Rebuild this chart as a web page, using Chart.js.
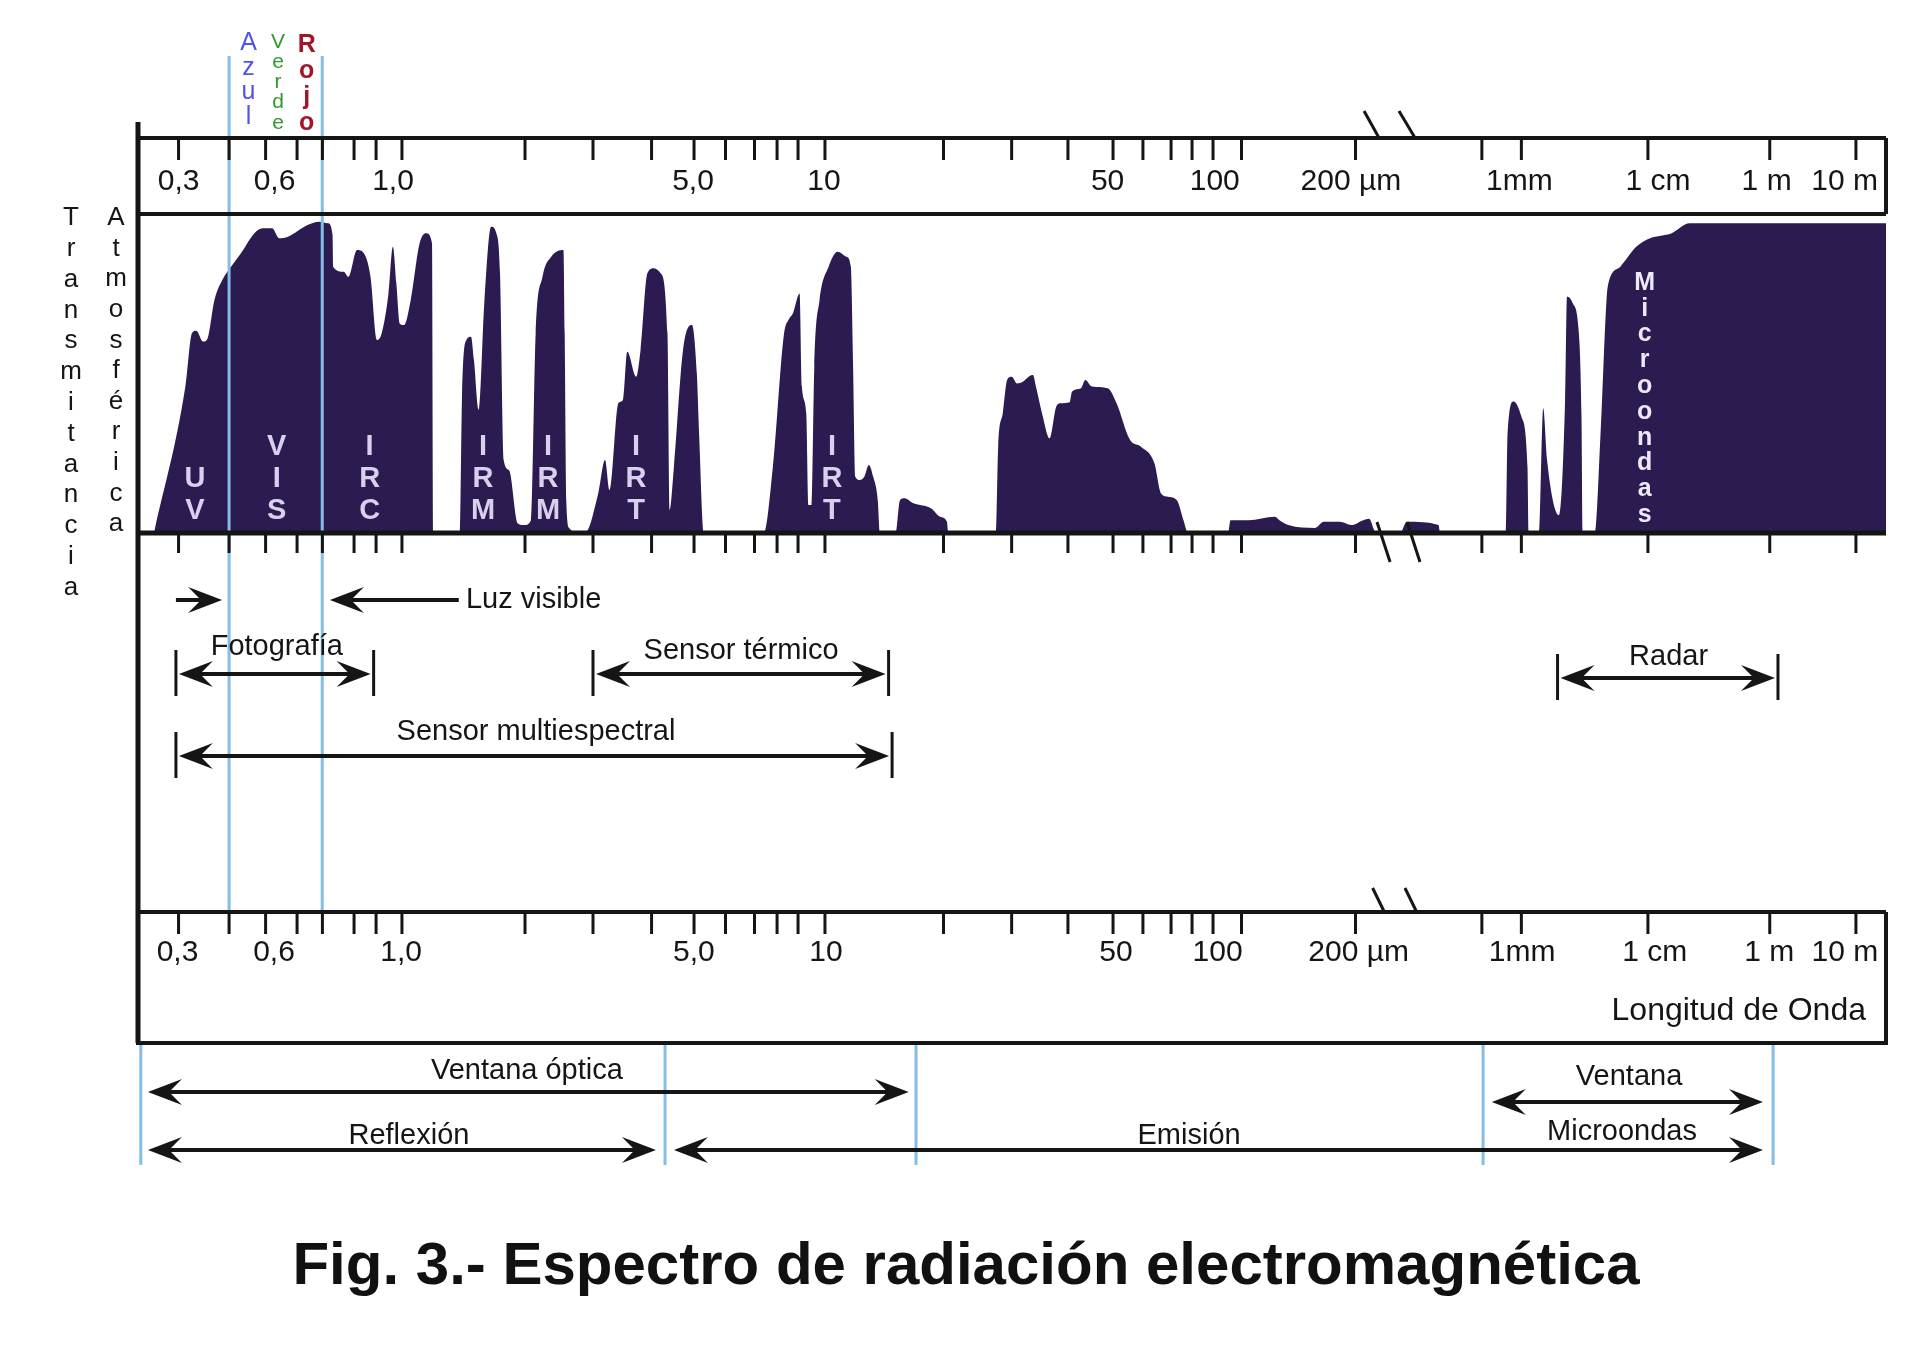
<!DOCTYPE html>
<html lang="es">
<head>
<meta charset="utf-8">
<title>Espectro de radiación electromagnética</title>
<script src="https://cdn.jsdelivr.net/npm/chart.js@4.4.1/dist/chart.umd.min.js"></script>
<style>
  html, body { margin: 0; padding: 0; background: #fff; }
  #wrap { width: 1920px; height: 1367px; }
</style>
</head>
<body>
<div id="wrap"><canvas id="spectrumChart" width="1920" height="1367"></canvas></div>
<script>
// position along the wavelength bar, 0 = left end, 1000 = right end (the scale is not uniform)
const curveX = [
   9.2, 27.1, 30.9, 33.4, 37.2, 39.8, 43.7, 48.7, 52.6, 58.9, 66.6, 71.7, 76.8, 80.7, 85.8, 97.3, 103.6, 108.7, 111.3, 111.6,
   117.7, 120.3, 125.3, 129.2, 133.0, 136.7, 139.4, 143.3, 145.8, 147.8, 149.7, 152.2, 156.0, 161.1, 164.9, 168.2, 168.8,
   184.1, 185.4, 187.9, 190.5, 192.2, 194.9, 198.2, 202.0, 205.0, 207.1, 209.2, 212.3, 217.3, 221.1, 224.8, 227.5, 231.4,
   236.4, 243.4, 244.1, 245.0, 246.7, 253.1,
   255.6, 263.3, 267.2, 269.7, 274.8, 277.4, 279.9, 285.0, 287.5, 291.4, 295.2, 299.0, 302.9, 304.1, 306.6, 311.8, 316.9,
   319.7, 321.0, 323.6,
   358.0, 363.2, 369.6, 372.1, 374.7, 378.5, 379.8, 382.3, 383.6, 385.4, 386.9, 389.9, 395.1, 400.2, 405.3, 407.8, 409.1,
   410.4, 412.9, 415.5, 418.1, 420.6, 423.2, 424.4,
   433.4, 435.9, 438.5, 443.6, 453.8, 458.9, 462.8, 463.5,
   490.9, 492.1, 494.7, 497.2, 499.8, 502.9, 506.2, 509.5, 512.0, 513.7, 517.2, 521.5, 525.3, 527.9, 533.0, 534.3, 539.4,
   541.9, 545.8, 554.7, 559.8, 567.5, 573.8, 581.5, 585.3, 589.2, 594.3, 598.1, 600.7,
   623.6, 625.0, 635.1, 650.5, 653.0, 658.1, 673.5, 678.3, 687.4, 694.2, 701.0, 704.3, 707.7, 710.6, 722.0, 725.9, 744.0, 744.9,
   782.4, 783.5, 786.9, 791.4, 794.9, 795.5, 801.6, 803.9, 806.1, 812.9, 816.4, 817.5, 820.8, 824.3, 825.8, 826.5, 833.3,
   836.7, 840.1, 841.2, 848.0, 857.1, 865.0, 877.4, 887.6, 1000
];
// atmospheric transmittance, %
const curveY = [
   0, 45.9, 62.7, 63.4, 60.0, 61.0, 73.0, 79.8, 83.0, 87.7, 94.0, 95.5, 95.5, 92.4, 92.9, 96.6, 97.6, 97.1, 93.4, 83.5,
   81.9, 80.3, 88.7, 87.7, 80.3, 60.5, 62.6, 75.1, 89.7, 78.3, 65.7, 65.2, 73.0, 90.8, 94.0, 90.8, 0,
   0, 43.8, 60.5, 61.5, 54.2, 38.6, 73.0, 96.0, 94.0, 81.4, 22.9, 19.7, 3.0, 2.5, 4.0, 62.6, 80.3,
   86.6, 88.7, 62.7, 10.3, 1.6, 0,
   0, 12.4, 22.9, 13.5, 40.7, 41.7, 56.8, 49.0, 57.4, 81.4, 83.0, 81.4, 62.6, 7.2, 20.8, 57.4, 65.2,
   50.0, 31.0, 0,
   0, 20.8, 62.6, 66.8, 68.9, 75.1, 45.9, 37.5, 8.8, 8.8, 52.1, 73.0, 83.5, 88.2, 86.6, 83.5, 52.1,
   17.6, 16.6, 17.6, 21.3, 17.6, 10.3, 0,
   0, 10.3, 10.9, 9.3, 7.7, 5.1, 3.5, 0,
   0, 27.0, 37.5, 48.0, 49.0, 46.9, 47.4, 49.0, 49.5, 45.9, 37.5, 29.7, 39.6, 40.7, 41.0, 44.3, 45.4,
   48.0, 45.9, 45.4, 40.7, 29.2, 27.0, 21.8, 12.4, 11.4, 10.3, 4.0, 0,
   0, 4.0, 4.0, 5.1, 4.0, 2.5, 1.6, 3.5, 3.5, 2.5, 4.0, 4.5, 0.5, 0, 0, 3.5, 2.5, 0,
   0, 31.2, 41.2, 36.5, 20.8, 0, 0, 39.1, 22.9, 5.6, 41.7, 74.1, 72.0, 62.6, 36.5, 0, 0,
   31.2, 73.0, 78.3, 83.5, 89.7, 92.4, 94.0, 97.1, 97.1
];

const tickPos = [23.2, 52.1, 73.0, 91.0, 105.5, 123.6, 136.2, 151.0, 221.4, 260.3, 293.8, 318.1, 336.1, 352.7, 365.6,
   377.6, 393.0, 460.8, 499.8, 532.0, 557.8, 574.9, 591.0, 603.0, 615.0, 631.3, 696.5, 768.8, 791.4, 863.8, 933.5, 982.8];
const tickLabels = ['0,3', '0,6', '1,0', '5,0', '10', '50', '100', '200 µm', '1mm', '1 cm', '1 m', '10 m'];
const topLabelPos = [23.2, 78.1, 145.9, 317.5, 392.4, 554.7, 616.0, 693.9, 790.3, 869.6, 931.7, 976.3];
const bottomLabelPos = [22.6, 77.8, 150.5, 318.0, 393.6, 559.5, 617.6, 698.3, 791.8, 867.7, 933.2, 976.5];

// axis breaks (start, end of each slash)
const topBreaks = [[701.4, 710.0], [721.4, 730.6]];
const baseBreaks = [[708.8, 716.3], [726.0, 733.4]];
const bottomBreaks = [[706.3, 713.0], [724.8, 731.5]];

const bandNames = ['UV', 'VIS', 'IRC', 'IRM', 'IRM', 'IRT', 'IRT'];
const bandPos = [32.6, 79.4, 132.5, 197.4, 234.6, 284.9, 397.0];
const microPos = 861.9;

const colorNames = ['Azul', 'Verde', 'Rojo'];
const colorNamePos = [63.2, 80.1, 96.5];
const colorLinePos = [52.1, 105.4];

const visibleFrom = [21.7, 183.5];
const visibleTo = [48.1, 109.8];
const visibleLabelPos = 187.6;

const rangeNames = ['Fotografía', 'Sensor térmico', 'Sensor multiespectral', 'Radar'];
const rangeFrom = [21.7, 260.3, 21.7, 812.1];
const rangeTo = [134.8, 429.4, 431.4, 938.2];
const rangeLabelPos = [79.4, 345.0, 227.7, 875.6];

const windowNames = ['Ventana óptica', 'Reflexión', 'Emisión', 'Ventana'];
const windowFrom = [5.7, 5.7, 306.6, 774.5];
const windowTo = [440.9, 296.3, 929.6, 929.6];
const windowLabelPos = [222.5, 155.0, 601.3, 853.0];
const windowLines = [1.6, 301.5, 445.1, 769.5, 935.4];

// vertical layout in pixels
const layout = {
   lineTop: 122, topBoxTop: 138, tickLen: 22, topLabelY: 182, midTickLen: 20,
   bottomBoxTop: 912, bottomBoxBottom: 1043, bottomLabelY: 953, longitudY: 1011,
   luzY: 600, rangeArrowY: [674, 674, 756, 678], rangeLabelY: [647, 651, 732, 657],
   windowArrowY: [1092, 1150, 1150, 1102], windowLabelY: [1071, 1136, 1136, 1077], microLabelY: 1132,
   windowLineBottom: 1165, colorLineTop: 56, titleX: 966, titleY: 1267
};

const FONT = "'Liberation Sans', Arial, sans-serif";
const INK = '#151515';

function line(ctx, x1, y1, x2, y2) {
   ctx.beginPath();
   ctx.moveTo(x1, y1);
   ctx.lineTo(x2, y2);
   ctx.stroke();
}

function arrowHead(ctx, tipX, y, dir) {
   const len = 34, half = 13;
   ctx.beginPath();
   ctx.moveTo(tipX, y);
   ctx.lineTo(tipX - dir * len, y - half);
   ctx.lineTo(tipX - dir * len * 0.62, y);
   ctx.lineTo(tipX - dir * len, y + half);
   ctx.closePath();
   ctx.fill();
}

function doubleArrow(ctx, x1, x2, y) {
   ctx.lineWidth = 4;
   line(ctx, x1 + 10, y, x2 - 10, y);
   arrowHead(ctx, x1, y, -1);
   arrowHead(ctx, x2, y, 1);
}

function stack(ctx, text, x, y0, step) {
   [...text].forEach((ch, i) => ctx.fillText(ch, x, y0 + i * step));
}

const spectrumDecor = {
   id: 'spectrumDecor',
   afterDatasetsDraw(chart) {
      const { ctx, chartArea } = chart;
      const xs = chart.scales.x;
      const px = v => xs.getPixelForValue(v);
      const left = chartArea.left, right = chartArea.right;
      const boxMid = chartArea.top, base = chartArea.bottom;

      ctx.save();
      ctx.textAlign = 'center';
      ctx.textBaseline = 'middle';

      // band names inside the transmittance area
      ctx.fillStyle = '#d9d0ee';
      ctx.font = 'bold 29px ' + FONT;
      bandNames.forEach((name, i) => stack(ctx, name, px(bandPos[i]), 511 - (name.length - 1) * 32, 32));
      ctx.fillStyle = '#ece8f6';
      ctx.font = 'bold 25px ' + FONT;
      stack(ctx, 'Microondas', px(microPos), 283, 25.8);

      // blue / red limits of the visible band
      ctx.strokeStyle = '#84bde6';
      ctx.lineWidth = 3;
      colorLinePos.forEach(v => line(ctx, px(v), layout.colorLineTop, px(v), layout.bottomBoxTop));
      windowLines.forEach(v => line(ctx, px(v), layout.bottomBoxBottom, px(v), layout.windowLineBottom));

      // colour names
      ctx.font = '25px ' + FONT;
      ctx.fillStyle = '#5252f0';
      stack(ctx, colorNames[0], px(colorNamePos[0]), 43, 24.7);
      ctx.font = '21px ' + FONT;
      ctx.fillStyle = '#2f9a2f';
      stack(ctx, colorNames[1], px(colorNamePos[1]), 42, 20.2);
      ctx.font = 'bold 25px ' + FONT;
      ctx.fillStyle = '#a3162a';
      stack(ctx, colorNames[2], px(colorNamePos[2]), 45, 26);

      // frames
      ctx.strokeStyle = INK;
      ctx.fillStyle = INK;
      ctx.lineCap = 'butt';
      ctx.lineWidth = 5;
      line(ctx, left, layout.lineTop, left, layout.bottomBoxBottom);
      ctx.lineWidth = 4;
      line(ctx, left, layout.topBoxTop, right, layout.topBoxTop);
      line(ctx, right, layout.topBoxTop, right, boxMid);
      line(ctx, left, boxMid, right, boxMid);
      ctx.lineWidth = 5;
      line(ctx, left, base, right, base);
      ctx.lineWidth = 4;
      line(ctx, left, layout.bottomBoxTop, right, layout.bottomBoxTop);
      line(ctx, right, layout.bottomBoxTop, right, layout.bottomBoxBottom);
      line(ctx, left - 2, layout.bottomBoxBottom, right + 2, layout.bottomBoxBottom);

      // ticks
      ctx.lineWidth = 3;
      tickPos.forEach(v => {
         const x = px(v);
         line(ctx, x, layout.topBoxTop, x, layout.topBoxTop + layout.tickLen);
         line(ctx, x, base, x, base + layout.midTickLen);
         line(ctx, x, layout.bottomBoxTop, x, layout.bottomBoxTop + layout.tickLen);
      });

      // axis breaks
      topBreaks.forEach(b => line(ctx, px(b[0]), layout.topBoxTop - 27, px(b[1]), layout.topBoxTop));
      baseBreaks.forEach(b => line(ctx, px(b[0]), base - 11, px(b[1]), base + 29));
      bottomBreaks.forEach(b => line(ctx, px(b[0]), layout.bottomBoxTop - 24, px(b[1]), layout.bottomBoxTop));

      // tick labels
      ctx.font = '30px ' + FONT;
      tickLabels.forEach((t, i) => {
         ctx.fillText(t, px(topLabelPos[i]), layout.topLabelY);
         ctx.fillText(t, px(bottomLabelPos[i]), layout.bottomLabelY);
      });
      ctx.textAlign = 'right';
      ctx.font = '32px ' + FONT;
      ctx.fillText('Longitud de Onda', right - 20, layout.longitudY);

      // y axis title, stacked letters
      ctx.textAlign = 'center';
      ctx.font = '26px ' + FONT;
      stack(ctx, 'Transmitancia', 71, 218, 30.8);
      stack(ctx, 'Atmosférica', 116, 218, 30.6);

      // visible light pointers
      ctx.lineWidth = 4;
      visibleFrom.forEach((v, i) => {
         const x1 = px(v), x2 = px(visibleTo[i]);
         const dir = x2 > x1 ? 1 : -1;
         line(ctx, x1, layout.luzY, x2 - dir * 12, layout.luzY);
         arrowHead(ctx, x2, layout.luzY, dir);
      });
      ctx.font = '29px ' + FONT;
      ctx.textAlign = 'left';
      ctx.fillText('Luz visible', px(visibleLabelPos), layout.luzY);

      // sensor ranges
      ctx.textAlign = 'center';
      rangeNames.forEach((name, i) => {
         const x1 = px(rangeFrom[i]), x2 = px(rangeTo[i]), y = layout.rangeArrowY[i];
         ctx.lineWidth = 3;
         line(ctx, x1, y - 24, x1, y + 22);
         line(ctx, x2, y - 24, x2, y + 22);
         doubleArrow(ctx, x1 + 3, x2 - 3, y);
         ctx.fillText(name, px(rangeLabelPos[i]), layout.rangeLabelY[i]);
      });

      // windows below the bar
      windowNames.forEach((name, i) => {
         doubleArrow(ctx, px(windowFrom[i]), px(windowTo[i]), layout.windowArrowY[i]);
         ctx.fillText(name, px(windowLabelPos[i]), layout.windowLabelY[i]);
      });
      ctx.fillText('Microondas', px(windowLabelPos[3] - 4), layout.microLabelY);

      // caption
      ctx.font = 'bold 60px ' + FONT;
      ctx.fillStyle = '#111';
      ctx.fillText('Fig. 3.- Espectro de radiación electromagnética', layout.titleX, layout.titleY);
      ctx.restore();
   }
};

const chartCtx = document.getElementById('spectrumChart').getContext('2d');
const spectrumChart = new Chart(chartCtx, {
   type: 'line',
   data: {
      datasets: [{
         label: 'Transmitancia atmosférica',
         data: curveX.map((x, i) => ({ x: x, y: curveY[i] })),
         fill: 'origin',
         backgroundColor: '#2b1b50',
         borderColor: 'rgba(0,0,0,0)',
         borderWidth: 0,
         pointRadius: 0,
         cubicInterpolationMode: 'monotone'
      }]
   },
   options: {
      responsive: false,
      animation: false,
      devicePixelRatio: 1,
      events: [],
      layout: { padding: { left: 138, right: 34, top: 214, bottom: 834 } },
      scales: {
         x: { type: 'linear', min: 0, max: 1000, display: false },
         y: { min: 0, max: 100, display: false }
      },
      plugins: {
         legend: { display: false },
         tooltip: { enabled: false }
      }
   },
   plugins: [spectrumDecor]
});
</script>
</body>
</html>
